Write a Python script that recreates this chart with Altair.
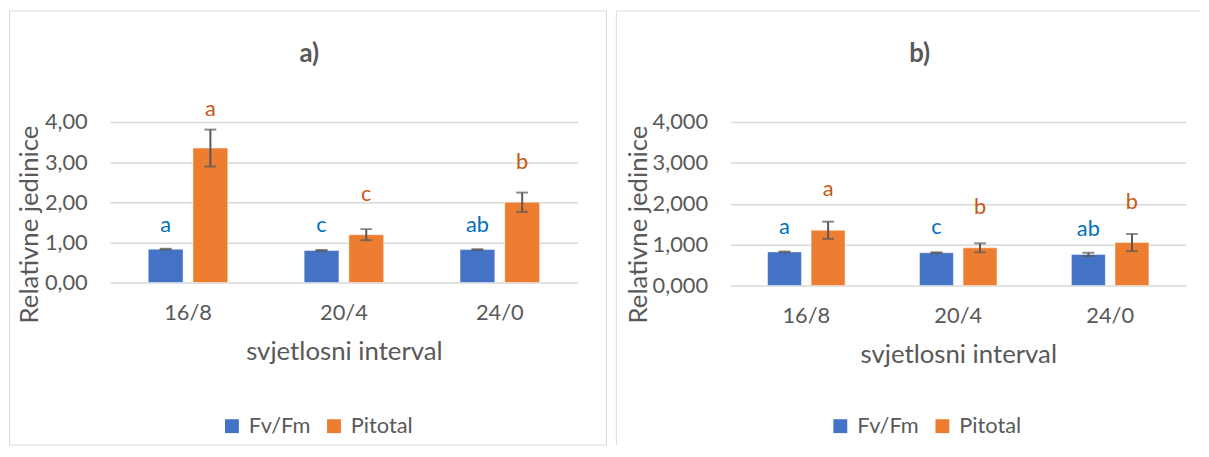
import altair as alt
import pandas as pd

FONT = "Lato"
GREY = "#595959"

categories = ["16/8", "20/4", "24/0"]
series = ["Fv/Fm", "Pitotal"]

# panel a)
a_fvfm = [0.83, 0.80, 0.82]
a_fvfm_err = [0.01, 0.01, 0.01]
a_pitotal = [3.35, 1.19, 2.00]
a_pitotal_err = [0.46, 0.14, 0.24]
a_fvfm_letters = ["a", "c", "ab"]
a_pitotal_letters = ["a", "c", "b"]
a_fvfm_letter_at = [1.25, 1.25, 1.25]
a_pitotal_letter_at = [4.16, 2.03, 2.84]

# panel b)
b_fvfm = [0.82, 0.80, 0.76]
b_fvfm_err = [0.01, 0.01, 0.04]
b_pitotal = [1.35, 0.92, 1.05]
b_pitotal_err = [0.21, 0.11, 0.21]
b_fvfm_letters = ["a", "c", "ab"]
b_pitotal_letters = ["a", "b", "b"]
b_fvfm_letter_at = [1.26, 1.26, 1.21]
b_pitotal_letter_at = [2.19, 1.76, 1.87]

y_ticks = [0, 1, 2, 3, 4]


def build_df(fv, fv_err, pit, pit_err, fv_let, pit_let, fv_at, pit_at):
    rows = []
    for i, c in enumerate(categories):
        rows.append(dict(cat=c, series=series[0], value=fv[i], lo=fv[i] - fv_err[i],
                         hi=fv[i] + fv_err[i], letter=fv_let[i], at=fv_at[i]))
        rows.append(dict(cat=c, series=series[1], value=pit[i], lo=pit[i] - pit_err[i],
                         hi=pit[i] + pit_err[i], letter=pit_let[i], at=pit_at[i]))
    return pd.DataFrame(rows)


def panel(df, title, decimals, W, H, frame, title_pos, ytitle_x, legend_xy, full_box):
    base = alt.Chart(df)
    x = alt.X("cat:N", sort=categories,
              scale=alt.Scale(paddingInner=0.49, paddingOuter=0.245),
              axis=alt.Axis(title="svjetlosni interval", labelAngle=0, ticks=False, tickSize=0,
                            domain=False, labelPadding=37, labelBaseline="alphabetic",
                            titleY=78, titleBaseline="alphabetic", grid=False))
    xo = alt.XOffset("series:N", sort=series,
                     scale=alt.Scale(paddingInner=0.222, paddingOuter=0))
    yaxis = alt.Axis(values=y_ticks, grid=True, gridColor="#D9D9D9", gridWidth=1.5,
                     domain=False, ticks=False, tickSize=0, labelPadding=23,
                     labelExpr="replace(format(datum.value, '.%df'), '.', ',')" % decimals,
                     title="Relativne jedinice", titleAngle=270, titleX=ytitle_x, titleY=103,
                     titleAlign="center", titleBaseline="alphabetic")
    yscale = alt.Scale(domain=[0, 4], nice=False)

    bars = base.mark_bar(stroke="white", strokeWidth=1, strokeOpacity=0.45).encode(
        x=x, xOffset=xo,
        y=alt.Y("value:Q", scale=yscale, axis=yaxis),
        color=alt.Color("series:N", sort=series,
                        scale=alt.Scale(domain=series, range=["#4472C4", "#ED7D31"]),
                        legend=alt.Legend(title=None, orient="none", legendX=legend_xy[0],
                                          legendY=legend_xy[1], direction="horizontal",
                                          symbolType="square", symbolSize=196,
                                          symbolStrokeWidth=0, symbolOpacity=1,
                                          labelFontSize=22, labelFont=FONT, labelColor=GREY,
                                          labelOffset=6, columnPadding=12)),
    )
    rules = base.mark_rule(color=GREY, strokeWidth=2).encode(
        x=alt.X("cat:N", sort=categories), xOffset=xo,
        y=alt.Y("lo:Q", scale=yscale), y2="hi:Q")
    cap_hi = base.mark_tick(color=GREY, thickness=2, size=12, orient="horizontal").encode(
        x=alt.X("cat:N", sort=categories), xOffset=xo, y=alt.Y("hi:Q", scale=yscale))
    cap_lo = base.mark_tick(color=GREY, thickness=2, size=12, orient="horizontal").encode(
        x=alt.X("cat:N", sort=categories), xOffset=xo, y=alt.Y("lo:Q", scale=yscale))
    txt_fv = base.transform_filter(alt.datum.series == series[0]).mark_text(
        font=FONT, fontSize=22, baseline="alphabetic", color="#0070C0").encode(
        x=alt.X("cat:N", sort=categories), xOffset=xo, y=alt.Y("at:Q", scale=yscale),
        text="letter:N")
    txt_pit = base.transform_filter(alt.datum.series == series[1]).mark_text(
        font=FONT, fontSize=22, baseline="alphabetic", color="#C55A11").encode(
        x=alt.X("cat:N", sort=categories), xOffset=xo, y=alt.Y("at:Q", scale=yscale),
        text="letter:N")

    one = alt.Chart(pd.DataFrame({"t": [title]}))
    ttl = one.mark_text(font=FONT, fontSize=26, fontWeight="bold", color=GREY).encode(
        x=alt.value(title_pos[0]), y=alt.value(title_pos[1]), text="t:N")
    if full_box:
        box = one.mark_rect(fillOpacity=0, stroke="#D9D9D9", strokeWidth=1).encode(
            x=alt.value(frame[0]), x2=alt.value(frame[1]),
            y=alt.value(frame[2]), y2=alt.value(frame[3]))
        frame_layers = [box]
    else:
        top = one.mark_rule(color="#D9D9D9", strokeWidth=1).encode(
            x=alt.value(frame[0]), x2=alt.value(frame[1]), y=alt.value(frame[2]))
        left = one.mark_rule(color="#D9D9D9", strokeWidth=1).encode(
            x=alt.value(frame[0]), y=alt.value(frame[2]), y2=alt.value(frame[3]))
        frame_layers = [top, left]

    return alt.layer(*frame_layers, ttl, bars, rules, cap_hi, cap_lo, txt_fv, txt_pit).properties(
        width=W, height=H)


df_a = build_df(a_fvfm, a_fvfm_err, a_pitotal, a_pitotal_err, a_fvfm_letters,
                a_pitotal_letters, a_fvfm_letter_at, a_pitotal_letter_at)
df_b = build_df(b_fvfm, b_fvfm_err, b_pitotal, b_pitotal_err, b_fvfm_letters,
                b_pitotal_letters, b_fvfm_letter_at, b_pitotal_letter_at)

left = panel(df_a, "a)", 2, 472, 162, (-101.5, 501, -112, 326), (201, -69), -73, (112, 296), True)
right = panel(df_b, "b)", 3, 460, 165, (-115, 474, -112, 326), (191, -69), -85, (100, 296), False)

chart = alt.hconcat(left, right, spacing=8).resolve_scale(
    x="independent", y="independent", color="independent", xOffset="independent"
).properties(
    padding={"left": 0, "top": 0, "right": 0, "bottom": 0}
).configure_view(stroke="transparent").configure_axis(
    labelFont=FONT, titleFont=FONT, labelFontSize=22, titleFontSize=26,
    labelColor=GREY, titleColor=GREY, titleFontWeight="normal"
)

chart.save("out.html", embed_options={"renderer": "svg", "actions": False})
